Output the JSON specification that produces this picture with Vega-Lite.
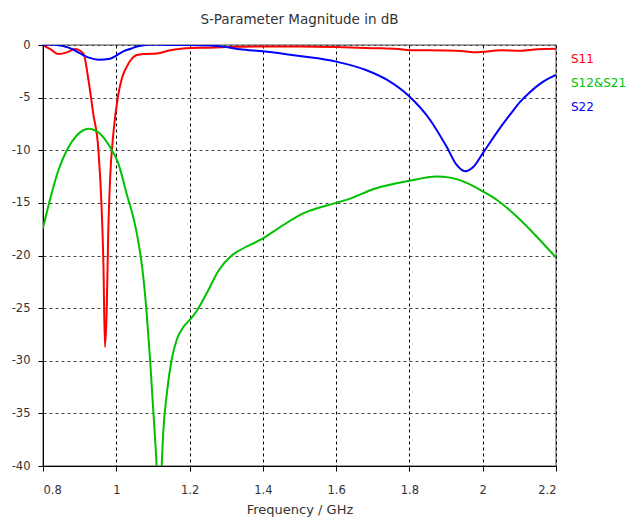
{
  "$schema": "https://vega.github.io/schema/vega-lite/v6.json",
  "autosize": {"type": "none"},
  "padding": {"left": 43, "top": 45, "right": 77, "bottom": 55},
  "width": 513,
  "height": 421,
  "background": "white",
  "title": {"text": "S-Parameter Magnitude in dB", "font": "DejaVu Sans", "fontSize": 13.5, "fontWeight": "normal", "color": "#333333", "offset": 13, "anchor": "middle"},
  "data": {"values": [
    {"f": 0.8, "db": 0, "s": "S11"},
    {"f": 0.82, "db": -0.4, "s": "S11"},
    {"f": 0.842, "db": -0.86, "s": "S11"},
    {"f": 0.865, "db": -0.7, "s": "S11"},
    {"f": 0.887, "db": -0.38, "s": "S11"},
    {"f": 0.91, "db": -0.8, "s": "S11"},
    {"f": 0.924, "db": -3.3, "s": "S11"},
    {"f": 0.937, "db": -6.5, "s": "S11"},
    {"f": 0.951, "db": -9.9, "s": "S11"},
    {"f": 0.96, "db": -15.5, "s": "S11"},
    {"f": 0.965, "db": -21, "s": "S11"},
    {"f": 0.969, "db": -28.7, "s": "S11"},
    {"f": 0.974, "db": -25, "s": "S11"},
    {"f": 0.978, "db": -17.9, "s": "S11"},
    {"f": 0.983, "db": -12.8, "s": "S11"},
    {"f": 0.992, "db": -8.4, "s": "S11"},
    {"f": 1.005, "db": -4.8, "s": "S11"},
    {"f": 1.015, "db": -3.2, "s": "S11"},
    {"f": 1.028, "db": -2.1, "s": "S11"},
    {"f": 1.04, "db": -1.4, "s": "S11"},
    {"f": 1.056, "db": -0.95, "s": "S11"},
    {"f": 1.08, "db": -0.85, "s": "S11"},
    {"f": 1.11, "db": -0.8, "s": "S11"},
    {"f": 1.147, "db": -0.5, "s": "S11"},
    {"f": 1.19, "db": -0.3, "s": "S11"},
    {"f": 1.25, "db": -0.25, "s": "S11"},
    {"f": 1.3, "db": -0.2, "s": "S11"},
    {"f": 1.4, "db": -0.15, "s": "S11"},
    {"f": 1.5, "db": -0.15, "s": "S11"},
    {"f": 1.6, "db": -0.2, "s": "S11"},
    {"f": 1.7, "db": -0.3, "s": "S11"},
    {"f": 1.77, "db": -0.38, "s": "S11"},
    {"f": 1.8, "db": -0.5, "s": "S11"},
    {"f": 1.85, "db": -0.5, "s": "S11"},
    {"f": 1.9, "db": -0.52, "s": "S11"},
    {"f": 1.95, "db": -0.6, "s": "S11"},
    {"f": 1.98, "db": -0.7, "s": "S11"},
    {"f": 2.0, "db": -0.65, "s": "S11"},
    {"f": 2.05, "db": -0.5, "s": "S11"},
    {"f": 2.1, "db": -0.55, "s": "S11"},
    {"f": 2.15, "db": -0.4, "s": "S11"},
    {"f": 2.2, "db": -0.35, "s": "S11"},

    {"f": 0.8, "db": -17.4, "s": "S12&S21"},
    {"f": 0.819, "db": -14.7, "s": "S12&S21"},
    {"f": 0.842, "db": -11.9, "s": "S12&S21"},
    {"f": 0.865, "db": -10, "s": "S12&S21"},
    {"f": 0.892, "db": -8.6, "s": "S12&S21"},
    {"f": 0.924, "db": -7.95, "s": "S12&S21"},
    {"f": 0.955, "db": -8.4, "s": "S12&S21"},
    {"f": 0.983, "db": -9.7, "s": "S12&S21"},
    {"f": 1.005, "db": -11.2, "s": "S12&S21"},
    {"f": 1.028, "db": -14.1, "s": "S12&S21"},
    {"f": 1.056, "db": -17.9, "s": "S12&S21"},
    {"f": 1.072, "db": -21.5, "s": "S12&S21"},
    {"f": 1.083, "db": -25.5, "s": "S12&S21"},
    {"f": 1.092, "db": -29.8, "s": "S12&S21"},
    {"f": 1.1, "db": -34.2, "s": "S12&S21"},
    {"f": 1.106, "db": -37.5, "s": "S12&S21"},
    {"f": 1.11, "db": -40, "s": "S12&S21"},
    {"f": 1.117, "db": -50, "s": "S12&S21"},
    {"f": 1.124, "db": -40, "s": "S12&S21"},
    {"f": 1.128, "db": -36.9, "s": "S12&S21"},
    {"f": 1.138, "db": -33.1, "s": "S12&S21"},
    {"f": 1.151, "db": -29.9, "s": "S12&S21"},
    {"f": 1.165, "db": -28.0, "s": "S12&S21"},
    {"f": 1.183, "db": -26.8, "s": "S12&S21"},
    {"f": 1.201, "db": -26.1, "s": "S12&S21"},
    {"f": 1.219, "db": -25.3, "s": "S12&S21"},
    {"f": 1.251, "db": -23.3, "s": "S12&S21"},
    {"f": 1.278, "db": -21.5, "s": "S12&S21"},
    {"f": 1.315, "db": -20, "s": "S12&S21"},
    {"f": 1.337, "db": -19.5, "s": "S12&S21"},
    {"f": 1.399, "db": -18.4, "s": "S12&S21"},
    {"f": 1.456, "db": -17.1, "s": "S12&S21"},
    {"f": 1.51, "db": -16.0, "s": "S12&S21"},
    {"f": 1.6, "db": -15.0, "s": "S12&S21"},
    {"f": 1.638, "db": -14.6, "s": "S12&S21"},
    {"f": 1.701, "db": -13.7, "s": "S12&S21"},
    {"f": 1.8, "db": -12.9, "s": "S12&S21"},
    {"f": 1.874, "db": -12.5, "s": "S12&S21"},
    {"f": 1.911, "db": -12.6, "s": "S12&S21"},
    {"f": 1.956, "db": -13.1, "s": "S12&S21"},
    {"f": 2.0, "db": -13.9, "s": "S12&S21"},
    {"f": 2.038, "db": -14.7, "s": "S12&S21"},
    {"f": 2.093, "db": -16.3, "s": "S12&S21"},
    {"f": 2.147, "db": -18.2, "s": "S12&S21"},
    {"f": 2.2, "db": -20.2, "s": "S12&S21"},

    {"f": 0.8, "db": 0, "s": "S22"},
    {"f": 0.819, "db": 0.05, "s": "S22"},
    {"f": 0.855, "db": -0.1, "s": "S22"},
    {"f": 0.88, "db": -0.4, "s": "S22"},
    {"f": 0.901, "db": -0.8, "s": "S22"},
    {"f": 0.925, "db": -1.2, "s": "S22"},
    {"f": 0.951, "db": -1.4, "s": "S22"},
    {"f": 0.983, "db": -1.3, "s": "S22"},
    {"f": 1.0, "db": -1.0, "s": "S22"},
    {"f": 1.019, "db": -0.6, "s": "S22"},
    {"f": 1.04, "db": -0.35, "s": "S22"},
    {"f": 1.056, "db": -0.15, "s": "S22"},
    {"f": 1.08, "db": 0, "s": "S22"},
    {"f": 1.101, "db": 0.05, "s": "S22"},
    {"f": 1.147, "db": 0, "s": "S22"},
    {"f": 1.2, "db": 0, "s": "S22"},
    {"f": 1.256, "db": -0.05, "s": "S22"},
    {"f": 1.3, "db": -0.2, "s": "S22"},
    {"f": 1.338, "db": -0.4, "s": "S22"},
    {"f": 1.4, "db": -0.6, "s": "S22"},
    {"f": 1.5, "db": -1.05, "s": "S22"},
    {"f": 1.6, "db": -1.58, "s": "S22"},
    {"f": 1.683, "db": -2.4, "s": "S22"},
    {"f": 1.738, "db": -3.3, "s": "S22"},
    {"f": 1.8, "db": -4.9, "s": "S22"},
    {"f": 1.856, "db": -7.1, "s": "S22"},
    {"f": 1.902, "db": -9.7, "s": "S22"},
    {"f": 1.929, "db": -11.4, "s": "S22"},
    {"f": 1.952, "db": -12.0, "s": "S22"},
    {"f": 1.974, "db": -11.6, "s": "S22"},
    {"f": 2.0, "db": -10.3, "s": "S22"},
    {"f": 2.047, "db": -7.9, "s": "S22"},
    {"f": 2.075, "db": -6.6, "s": "S22"},
    {"f": 2.102, "db": -5.4, "s": "S22"},
    {"f": 2.125, "db": -4.6, "s": "S22"},
    {"f": 2.16, "db": -3.6, "s": "S22"},
    {"f": 2.2, "db": -2.85, "s": "S22"}
  ]},
  "mark": {"type": "line", "strokeWidth": 2, "clip": true, "interpolate": "monotone"},
  "encoding": {
    "x": {"field": "f", "type": "quantitative",
      "scale": {"domain": [0.8, 2.2], "nice": false, "zero": false},
      "axis": {"title": "Frequency / GHz", "values": [0.8, 1, 1.2, 1.4, 1.6, 1.8, 2, 2.2], "labelExpr": "'' + datum.value",
        "gridColor": "#000000", "gridDash": [3, 3], "gridOpacity": 1, "labelPadding": 13, "titlePadding": 8}},
    "y": {"field": "db", "type": "quantitative",
      "scale": {"domain": [-40, 0], "nice": false, "zero": false},
      "axis": {"title": null, "values": [0, -5, -10, -15, -20, -25, -30, -35, -40], "labelExpr": "'' + datum.value",
        "gridColor": "#444444", "gridDash": [3, 3], "gridOpacity": 1, "labelPadding": 8}},
    "color": {"field": "s", "type": "nominal",
      "scale": {"domain": ["S11", "S12&S21", "S22"], "range": ["#ff0000", "#00c000", "#0000ff"]},
      "legend": {"title": null, "orient": "none", "legendX": 516, "legendY": 8,
        "symbolSize": 0, "symbolStrokeWidth": 0, "symbolOpacity": 0, "labelOffset": 0, "padding": 0, "rowPadding": 12,
        "labelFont": "DejaVu Sans", "labelFontSize": 12,
        "encode": {"labels": {"update": {"fill": {"scale": "color", "field": "value"}}}}}}
  },
  "config": {
    "view": {"stroke": "#888888", "strokeWidth": 1.5},
    "axis": {"labelFont": "DejaVu Sans", "labelFontSize": 11.5, "labelColor": "#333333",
      "titleFont": "DejaVu Sans", "titleFontSize": 13, "titleFontWeight": "normal", "titleColor": "#333333",
      "domainColor": "#000000", "domainWidth": 1, "tickColor": "#000000", "tickSize": 5, "grid": true}
  }
}
